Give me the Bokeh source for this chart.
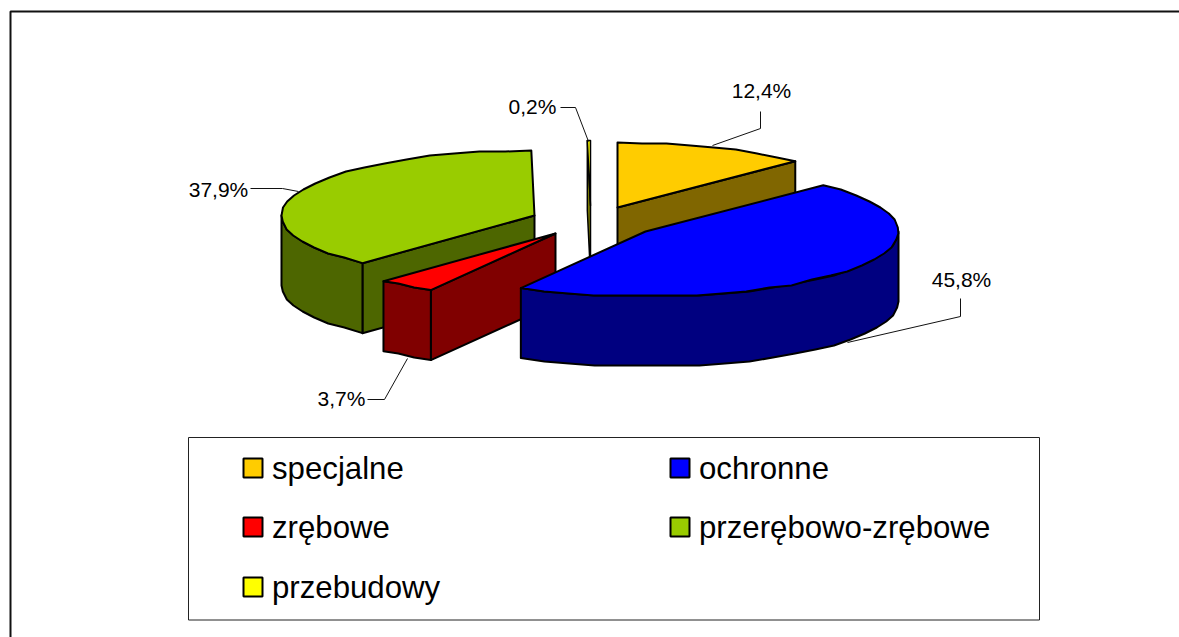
import math
from bokeh.plotting import figure
from bokeh.embed import file_html
from bokeh.resources import INLINE
from bokeh.core.properties import value
from bokeh.models import Range1d

# ---- data ----
categories = ["specjalne", "ochronne", "zrębowe", "przerębowo-zrębowe", "przebudowy"]
shares = [12.4, 45.8, 3.7, 37.9, 0.2]
top_colors = ["#FFCC00", "#0000FF", "#FF0000", "#99CC00", "#FFFF00"]
side_colors = ["#806600", "#000080", "#800000", "#4D6600", "#808000"]

# ---- layout (page pixels) ----
W, H = 1179, 637
A, B, DEPTH = 253, 65, 70
apex = {"specjalne": (617, 207), "ochronne": (645, 231), "zrębowe": (555, 233),
        "przerębowo-zrębowe": (534, 215), "przebudowy": (590, 205)}
label_pos = {"specjalne": (761, 90), "ochronne": (961, 279), "zrębowe": (341, 398),
             "przerębowo-zrębowe": (218, 189), "przebudowy": (532, 106)}
leaders = {"specjalne": [(760, 111), (760, 128), (712, 145)],
           "ochronne": [(960, 298), (960, 316), (847, 342)],
           "zrębowe": [(367, 399), (384, 399), (407, 358)],
           "przerębowo-zrębowe": [(250, 188), (282, 188), (298, 191)],
           "przebudowy": [(560, 107), (575, 107), (588, 141)]}
paint_order = ["specjalne", "przebudowy", "przerębowo-zrębowe", "zrębowe", "ochronne"]
STEP = 6.0
SNAP = 2.0   # the source's outline is slightly stepped

p = figure(width=W, height=H, x_range=Range1d(0, W), y_range=Range1d(H, 0),
           output_backend="svg", toolbar_location=None, min_border=0,
           outline_line_color=None, background_fill_color="white", border_fill_color="white")
p.xaxis.visible = False
p.yaxis.visible = False
p.grid.visible = False


def rim(cx, cy, a0, a1, dy=0):
    n = max(1, int(math.ceil((a1 - a0) / STEP)))
    pts = []
    for i in range(n + 1):
        t = math.radians(a0 + (a1 - a0) * i / n)
        x, y = A * math.sin(t), -B * math.cos(t)
        if 0 < i < n:
            y = round(y / SNAP) * SNAP
        pts.append((cx + x, cy + y + dy))
    return pts


def poly(pts, fill, lw):
    p.patch([q[0] for q in pts], [q[1] for q in pts], fill_color=fill, line_color="black",
            line_width=lw, line_join="round")


# frame
p.line([10, 10, W], [H, 11, 11], line_color="#111111", line_width=2)

angles = {}
acc = 0.0
for name, s in zip(categories, shares):
    angles[name] = (acc, acc + s * 3.6)
    acc += s * 3.6

for name in paint_order:
    i = categories.index(name)
    a0, a1 = angles[name]
    cx, cy = apex[name]
    side, top = side_colors[i], top_colors[i]
    lw = 2 if shares[i] >= 1 else 1.5
    if math.sin(math.radians(a1)) > 0.001:      # wall at the end angle faces the viewer
        e = rim(cx, cy, a1, a1)[0]
        poly([(cx, cy), e, (e[0], e[1] + DEPTH), (cx, cy + DEPTH)], side, lw)
    if math.sin(math.radians(a0)) < -0.001:     # wall at the start angle faces the viewer
        e = rim(cx, cy, a0, a0)[0]
        poly([(cx, cy), e, (e[0], e[1] + DEPTH), (cx, cy + DEPTH)], side, lw)
    f0, f1 = max(a0, 90), min(a1, 270)
    if f1 > f0:                                  # front rim
        poly(rim(cx, cy, f0, f1) + rim(cx, cy, f0, f1, DEPTH)[::-1], side, lw)
    poly([(cx, cy)] + rim(cx, cy, a0, a1), top, lw)

# leader lines and value labels
for name, s in zip(categories, shares):
    pts = leaders[name]
    p.line([q[0] for q in pts], [q[1] for q in pts], line_color="#111111", line_width=1)
    lx, ly = label_pos[name]
    p.text([lx], [ly], text=[f"{s:.1f}%".replace(".", ",")], text_font=value("Liberation Sans"),
           text_font_size="21px", text_align="center", text_baseline="middle", text_color="black")

# legend
p.quad(left=[188], right=[1039], top=[437], bottom=[619.5], fill_color="white",
       line_color="#222222", line_width=1)
legend_x = [243, 670]
legend_y = [468, 527, 587]
for k, name in enumerate(categories):
    col, row = k % 2, k // 2
    x, y = legend_x[col], legend_y[row]
    i = categories.index(name)
    p.quad(left=[x], right=[x + 19], top=[y - 10], bottom=[y + 9], fill_color=top_colors[i],
           line_color="black", line_width=2)
    p.text([x + 28.5], [y], text=[name], text_font=value("Liberation Sans"), text_font_size="31.2px",
           text_align="left", text_baseline="middle", text_color="black")

open("out.html", "w").write(file_html(p, INLINE))
